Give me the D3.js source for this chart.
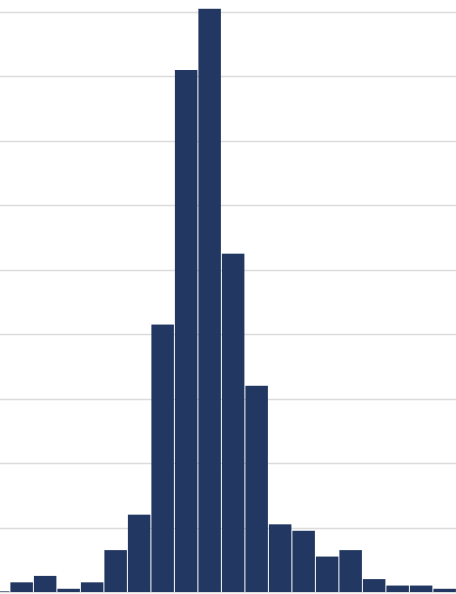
<!DOCTYPE html>
<html>
<head>
<meta charset="utf-8">
<script src="https://cdn.jsdelivr.net/npm/d3@7"></script>
<style>
  html, body { margin: 0; padding: 0; background: #fff; overflow: hidden; }
  svg { display: block; }
</style>
</head>
<body>
<svg id="chart" width="456" height="594"></svg>
<script>
// histogram counts per bin (left to right)
const counts = [0.2, 3, 5, 1, 3, 13, 24, 83, 162, 181, 105, 64, 21, 19, 11, 13, 4, 2, 2, 1];
const gridTicks = [0, 20, 40, 60, 80, 100, 120, 140, 160, 180];

const svg = d3.select("#chart");
const width = +svg.attr("width");

// bins run a bit past both edges of the frame
const x = d3.scaleLinear().domain([0, counts.length]).range([-13.6, 456.4]);
const y = d3.scaleLinear().domain([0, 180]).range([592, 12]);

// grid lines behind the bars
svg.append("g")
  .attr("class", "grid")
  .selectAll("line")
  .data(gridTicks)
  .enter()
  .append("line")
  .attr("x1", 0)
  .attr("x2", width)
  .attr("y1", d => Math.round(y(d)) + 0.5)
  .attr("y2", d => Math.round(y(d)) + 0.5)
  .style("stroke", "#dcdcdc")
  .style("stroke-width", 1.5);

svg.append("g")
  .attr("class", "bars")
  .selectAll("rect")
  .data(counts)
  .enter()
  .append("rect")
  .attr("x", (d, i) => x(i) + 0.5)
  .attr("width", (d, i) => x(i + 1) - x(i) - 1)
  .attr("y", d => y(d))
  .attr("height", d => y(0) - y(d))
  .attr("fill", "#223862");
</script>
</body>
</html>
